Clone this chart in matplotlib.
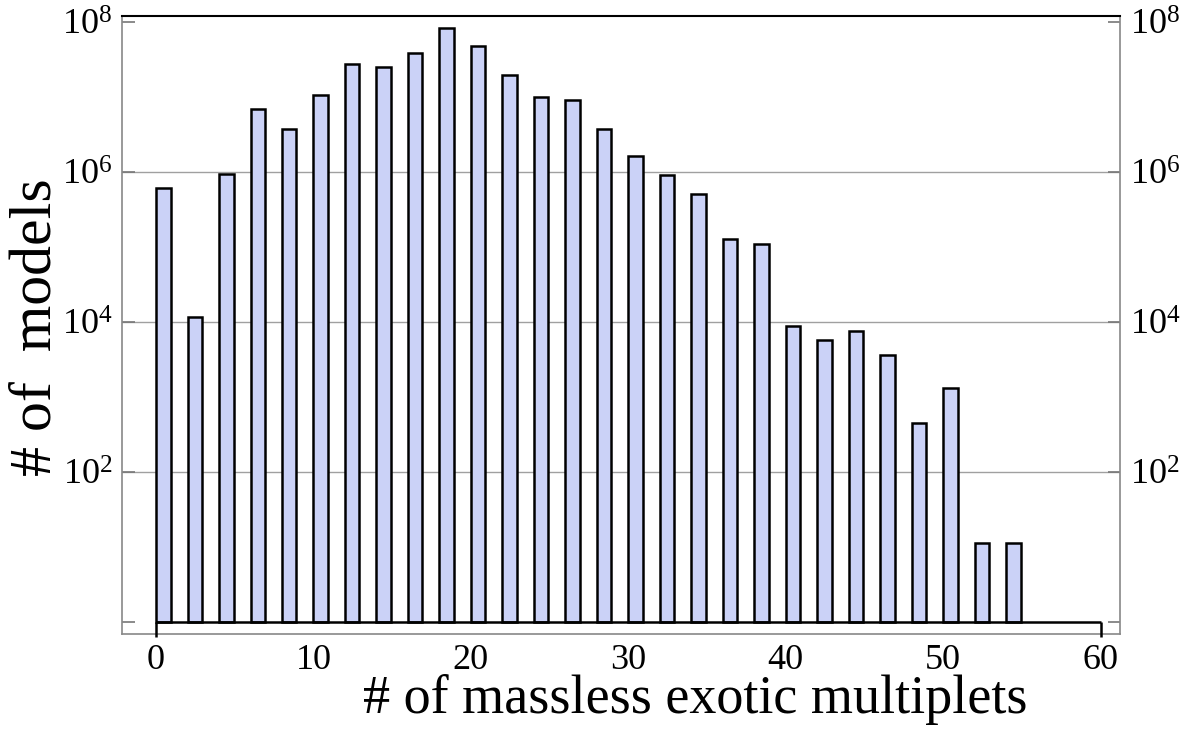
import matplotlib
matplotlib.use('Agg')
import matplotlib.pyplot as plt
import numpy as np

# number of massless exotic multiplets (even bins) and model counts
multiplets = [0, 2, 4, 6, 8, 10, 12, 14, 16, 18, 20, 22, 24, 26,
              28, 30, 32, 34, 36, 38, 40, 42, 44, 46, 48, 50, 52, 54]
models = [6.1e5, 1.17e4, 9.4e5, 6.9e6, 3.7e6, 1.06e7, 2.75e7, 2.5e7,
          3.86e7, 8.3e7, 4.8e7, 1.97e7, 1.0e7, 9.1e6, 3.7e6, 1.63e6,
          9.1e5, 5.1e5, 1.28e5, 1.1e5, 8.8e3, 5.75e3, 7.6e3, 3.6e3,
          450, 1.3e3, 11.3, 11.3]
xticks = [0, 10, 20, 30, 40, 50, 60]
yticks = [1, 1e2, 1e4, 1e6, 1e8]
yticklabels = ['', r'$\mathregular{10^{2}}$', r'$\mathregular{10^{4}}$',
               r'$\mathregular{10^{6}}$', r'$\mathregular{10^{8}}$']

plt.rcParams['font.family'] = ['Liberation Serif', 'DejaVu Serif']
plt.rcParams['mathtext.fontset'] = 'custom'
plt.rcParams['mathtext.rm'] = 'Liberation Serif'

fig = plt.figure(figsize=(11.86, 7.32), dpi=100)
ax = fig.add_axes([0.1029, 0.1339, 0.8415, 0.8442])

ax.set_yscale('log')
ax.set_xlim(-2.16, 61.23)
ax.set_ylim(0.69, 1.2e8)

for v in [1e2, 1e4, 1e6]:
    ax.axhline(v, color='#a0a0a0', lw=1.0, zorder=0)

ax.bar(multiplets, np.array(models) - 1, bottom=1, width=0.92, align='edge',
       color='#cbd2f7', edgecolor='black', linewidth=1.8, zorder=2)

# baseline of the histogram
ax.hlines(1, 0, 60, color='black', lw=1.8, zorder=3)
ax.vlines([0, 60], 0.62, 1, color='black', lw=1.8, zorder=3, clip_on=False)

ax.set_xticks(xticks)
ax.set_xticklabels([str(t) for t in xticks])
ax.tick_params(axis='x', length=0, labelsize=26, pad=7)

ax.set_yticks(yticks)
ax.set_yticklabels(yticklabels)
ax.minorticks_off()
ax.tick_params(axis='y', direction='in', length=9, width=1.2, color='#777777',
               labelsize=26, pad=7, right=True, labelright=True)

for side in ['left', 'right', 'bottom']:
    ax.spines[side].set_color('#888888')
    ax.spines[side].set_linewidth(1.2)
ax.spines['top'].set_color('black')
ax.spines['top'].set_linewidth(1.5)

fig.text(0.586, 0.044, '# of massless exotic multiplets', fontsize=39,
         ha='center', va='center')
fig.text(0.031, 0.553, '# of  models', fontsize=43, rotation=90,
         ha='center', va='center')

fig.savefig('out.png', dpi=100)
